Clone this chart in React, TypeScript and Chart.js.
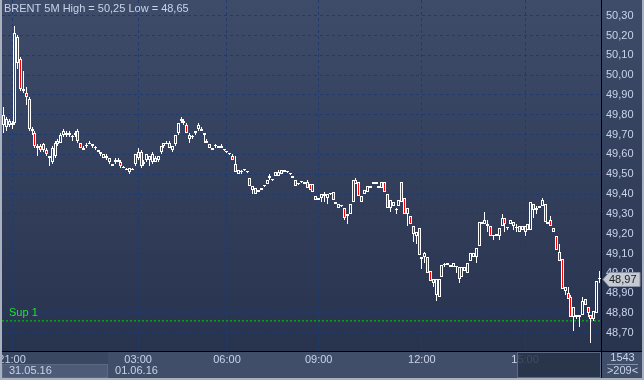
import React, { useEffect, useRef } from "react";
import { Chart, registerables } from "chart.js";

Chart.register(...registerables);

const TITLE = "BRENT 5M High = 50,25 Low = 48,65";

// 5-minute candles, 31.05.16 21:00 .. 01.06.16 ~16:40
const OPEN = [
  49.75, 49.74, 49.77, 49.75, 49.76, 50.19, 50.08, 49.92, 49.91, 49.88, 49.72, 49.71, 49.63, 49.64, 49.62, 49.62, 49.59, 49.56, 49.59, 49.65, 49.66, 49.70, 49.70, 49.71, 49.69, 49.71, 49.72, 49.66, 49.62, 49.64, 49.65, 49.64, 49.63, 49.62, 49.60, 49.58,
  49.58, 49.58, 49.54, 49.56, 49.56, 49.56, 49.53, 49.52, 49.51, 49.52, 49.55, 49.58, 49.61, 49.55, 49.57, 49.59, 49.56, 49.58, 49.57, 49.61, 49.64, 49.65, 49.66, 49.62, 49.65, 49.71, 49.77, 49.76, 49.75, 49.70, 49.69, 49.71, 49.73, 49.73,
  49.70, 49.67, 49.65, 49.62, 49.64, 49.63, 49.64, 49.62, 49.61, 49.60, 49.59, 49.55, 49.50, 49.51, 49.52, 49.51, 49.48, 49.42, 49.43, 49.41, 49.43, 49.44, 49.45, 49.48, 49.47, 49.49, 49.49, 49.52, 49.52, 49.51, 49.50, 49.49, 49.47, 49.45, 49.46,
  49.46, 49.46, 49.45, 49.41, 49.39, 49.38, 49.38, 49.39, 49.38, 49.40, 49.41, 49.36, 49.33, 49.34, 49.33, 49.29, 49.30, 49.36, 49.45, 49.46, 49.36, 49.40, 49.41, 49.43, 49.45, 49.45, 49.44, 49.43, 49.46, 49.40, 49.33, 49.36, 49.32, 49.34, 49.46,
  49.38, 49.30, 49.29, 49.24, 49.19, 49.23, 49.08, 49.08, 49.08, 49.01, 48.97, 48.89, 48.88, 48.98, 49.04, 49.04, 49.04, 49.03, 49.03, 49.03, 48.98, 49.01, 49.00, 49.06, 49.08, 49.08, 49.14, 49.25, 49.25, 49.24, 49.24, 49.19, 49.19, 49.19, 49.24,
  49.28, 49.23, 49.25, 49.26, 49.23, 49.24, 49.22, 49.24, 49.22, 49.22, 49.35, 49.32, 49.34, 49.34, 49.35, 49.25, 49.27, 49.23, 49.19, 49.11, 49.07, 48.91, 48.90, 48.88, 48.78, 48.78, 48.78, 48.79, 48.87, 48.83, 48.79, 48.77, 48.80, 48.97,
];
const HIGH = [
  49.84, 49.79, 49.78, 49.77, 50.25, 50.20, 50.09, 50.02, 49.94, 49.89, 49.74, 49.72, 49.65, 49.65, 49.66, 49.63, 49.59, 49.64, 49.67, 49.68, 49.71, 49.73, 49.72, 49.72, 49.70, 49.72, 49.73, 49.66, 49.64, 49.66, 49.67, 49.65, 49.64, 49.62, 49.61, 49.60,
  49.60, 49.58, 49.55, 49.58, 49.58, 49.57, 49.54, 49.53, 49.53, 49.53, 49.60, 49.63, 49.62, 49.57, 49.60, 49.59, 49.61, 49.59, 49.59, 49.64, 49.66, 49.67, 49.67, 49.64, 49.70, 49.76, 49.79, 49.78, 49.76, 49.71, 49.70, 49.72, 49.76, 49.74,
  49.71, 49.68, 49.65, 49.63, 49.65, 49.64, 49.65, 49.62, 49.61, 49.60, 49.60, 49.59, 49.52, 49.52, 49.52, 49.51, 49.48, 49.44, 49.43, 49.42, 49.43, 49.44, 49.47, 49.50, 49.47, 49.51, 49.52, 49.52, 49.52, 49.51, 49.50, 49.49, 49.47, 49.45, 49.46,
  49.46, 49.47, 49.45, 49.45, 49.39, 49.38, 49.40, 49.41, 49.40, 49.40, 49.41, 49.36, 49.35, 49.34, 49.33, 49.30, 49.35, 49.47, 49.48, 49.46, 49.39, 49.42, 49.44, 49.44, 49.46, 49.46, 49.44, 49.46, 49.46, 49.40, 49.37, 49.36, 49.33, 49.37, 49.46,
  49.38, 49.33, 49.29, 49.24, 49.21, 49.23, 49.08, 49.11, 49.08, 49.01, 48.97, 48.97, 48.97, 49.04, 49.05, 49.05, 49.04, 49.05, 49.03, 49.03, 49.03, 49.03, 49.05, 49.10, 49.10, 49.13, 49.26, 49.26, 49.31, 49.27, 49.24, 49.19, 49.20, 49.23, 49.30,
  49.28, 49.23, 49.27, 49.26, 49.25, 49.24, 49.24, 49.24, 49.25, 49.36, 49.35, 49.34, 49.34, 49.38, 49.35, 49.26, 49.29, 49.23, 49.19, 49.15, 49.07, 48.93, 48.93, 48.89, 48.83, 48.79, 48.79, 48.88, 48.87, 48.83, 48.79, 48.81, 48.96, 49.01,
];
const LOW = [
  49.71, 49.72, 49.74, 49.73, 49.75, 50.03, 49.92, 49.91, 49.85, 49.72, 49.70, 49.63, 49.59, 49.61, 49.61, 49.59, 49.54, 49.55, 49.58, 49.64, 49.66, 49.69, 49.69, 49.69, 49.67, 49.69, 49.66, 49.63, 49.62, 49.63, 49.65, 49.63, 49.62, 49.61, 49.59, 49.58,
  49.57, 49.55, 49.54, 49.55, 49.56, 49.53, 49.53, 49.52, 49.50, 49.52, 49.54, 49.57, 49.53, 49.54, 49.56, 49.54, 49.55, 49.56, 49.56, 49.60, 49.63, 49.65, 49.63, 49.61, 49.64, 49.70, 49.76, 49.75, 49.71, 49.66, 49.68, 49.70, 49.72, 49.72,
  49.66, 49.66, 49.63, 49.62, 49.63, 49.63, 49.63, 49.62, 49.61, 49.60, 49.57, 49.51, 49.50, 49.50, 49.52, 49.51, 49.44, 49.40, 49.40, 49.41, 49.42, 49.44, 49.45, 49.47, 49.47, 49.49, 49.49, 49.50, 49.51, 49.51, 49.50, 49.48, 49.44, 49.45, 49.46,
  49.45, 49.43, 49.42, 49.41, 49.37, 49.37, 49.36, 49.36, 49.35, 49.40, 49.37, 49.35, 49.33, 49.34, 49.27, 49.25, 49.30, 49.36, 49.45, 49.39, 49.36, 49.40, 49.41, 49.43, 49.45, 49.45, 49.43, 49.43, 49.41, 49.33, 49.31, 49.34, 49.30, 49.34, 49.36,
  49.30, 49.24, 49.25, 49.16, 49.15, 49.09, 49.02, 49.05, 49.00, 48.96, 48.93, 48.86, 48.88, 48.98, 49.03, 49.04, 49.03, 49.03, 49.00, 48.95, 48.98, 49.01, 49.00, 49.06, 49.08, 49.05, 49.14, 49.25, 49.25, 49.21, 49.19, 49.17, 49.19, 49.17, 49.24,
  49.21, 49.22, 49.25, 49.22, 49.21, 49.21, 49.22, 49.19, 49.22, 49.22, 49.28, 49.30, 49.33, 49.34, 49.26, 49.25, 49.24, 49.21, 49.12, 49.06, 48.92, 48.89, 48.87, 48.78, 48.71, 48.77, 48.73, 48.79, 48.84, 48.78, 48.65, 48.76, 48.80, 48.95,
];
const CLOSE = [
  49.80, 49.78, 49.75, 49.76, 50.21, 50.06, 49.93, 49.93, 49.89, 49.73, 49.73, 49.64, 49.64, 49.62, 49.65, 49.60, 49.58, 49.63, 49.66, 49.67, 49.70, 49.72, 49.71, 49.70, 49.69, 49.70, 49.67, 49.63, 49.63, 49.64, 49.66, 49.65, 49.63, 49.61, 49.61, 49.60,
  49.59, 49.56, 49.55, 49.57, 49.57, 49.54, 49.53, 49.52, 49.53, 49.52, 49.60, 49.61, 49.54, 49.56, 49.60, 49.57, 49.60, 49.56, 49.59, 49.64, 49.66, 49.66, 49.63, 49.64, 49.70, 49.76, 49.78, 49.77, 49.71, 49.68, 49.69, 49.72, 49.75, 49.72,
  49.71, 49.66, 49.63, 49.63, 49.64, 49.64, 49.63, 49.62, 49.61, 49.60, 49.57, 49.51, 49.52, 49.51, 49.52, 49.51, 49.44, 49.44, 49.40, 49.42, 49.42, 49.44, 49.47, 49.49, 49.47, 49.51, 49.51, 49.50, 49.51, 49.51, 49.50, 49.48, 49.44, 49.45, 49.46,
  49.45, 49.43, 49.42, 49.45, 49.37, 49.37, 49.40, 49.40, 49.40, 49.40, 49.37, 49.35, 49.35, 49.34, 49.28, 49.30, 49.35, 49.47, 49.47, 49.39, 49.39, 49.42, 49.44, 49.44, 49.46, 49.46, 49.43, 49.46, 49.41, 49.33, 49.37, 49.34, 49.32, 49.37, 49.36,
  49.30, 49.33, 49.25, 49.20, 49.21, 49.09, 49.07, 49.10, 49.00, 48.96, 48.95, 48.97, 48.97, 49.04, 49.04, 49.05, 49.03, 49.05, 49.03, 48.97, 49.03, 49.03, 49.05, 49.10, 49.10, 49.13, 49.26, 49.26, 49.27, 49.25, 49.19, 49.19, 49.20, 49.23, 49.28,
  49.25, 49.23, 49.27, 49.24, 49.23, 49.21, 49.24, 49.21, 49.25, 49.36, 49.32, 49.33, 49.33, 49.37, 49.26, 49.26, 49.24, 49.21, 49.12, 49.06, 48.92, 48.93, 48.87, 48.78, 48.83, 48.79, 48.79, 48.86, 48.84, 48.80, 48.77, 48.81, 48.96, 48.97,
];

const Y_TICKS = [48.7, 48.8, 48.9, 49.0, 49.1, 49.2, 49.3, 49.4, 49.5, 49.6, 49.7, 49.8, 49.9, 50.0, 50.1, 50.2, 50.3];
const Y_MIN = 48.608;
const Y_MAX = 50.379;
const X_TICK_IDX = [3, 47, 78, 110, 146, 182];
const X_TICK_LABELS = ["21:00", "03:00", "06:00", "09:00", "12:00", "15:00"];
const DATE_LABELS = ["31.05.16", "01.06.16"];
const DATE_START_IDX = [0, 37];
const SUP_LEVEL = 48.76;
const SUP_LABEL = "Sup 1";
const BAR_TOTAL_LABEL = "1543";
const VISIBLE_LABEL = ">209<";

const FAMILY = "'Liberation Sans Narrow', 'Liberation Sans', Arial, sans-serif";
const TEXT = "#c9d3ea";
const GRID = "#1f3a6b";

const fmt = (v: number) => v.toFixed(2).replace(".", ",");

export default function App() {
  const ref = useRef<HTMLCanvasElement>(null);

  useEffect(() => {
    const canvas = ref.current!;
    const c2d = canvas.getContext("2d")!;
    const bg = c2d.createLinearGradient(0, 0, 0, 351);
    bg.addColorStop(0, "#3e4c6a");
    bg.addColorStop(1, "#28334e");

    const n = CLOSE.length;
    const bodies = CLOSE.map((c, i) => ({ x: i, y: [OPEN[i], c] }));
    const wicks = CLOSE.map((_, i) => ({ x: i, y: [LOW[i], HIGH[i]] }));

    const snap = {
      id: "snap",
      beforeDatasetsDraw(chart: any) {
        chart.data.datasets.forEach((ds: any, di: number) => {
          if (ds.type === "line") return;
          const meta = chart.getDatasetMeta(di);
          meta.data.forEach((el: any) => {
            el.x = Math.floor(el.x) + 0.5;
            const y = Math.round(el.y);
            let b = Math.round(el.base);
            if (Math.abs(y - b) < 1) b = y + 1;
            el.y = y;
            el.base = b;
          });
        });
      },
    };

    const decor = {
      id: "decor",
      beforeDraw(chart: any) {
        const { ctx, width, height, chartArea: ca } = chart;
        const xs = chart.scales.x;
        ctx.save();
        ctx.fillStyle = bg;
        ctx.fillRect(0, 0, width, ca.bottom);
        ctx.fillStyle = "#414e69";
        ctx.fillRect(0, ca.bottom, width, height - ca.bottom);
        // first date box
        const x0 = xs.getPixelForValue(DATE_START_IDX[0] - 0.5);
        const x1 = xs.getPixelForValue(DATE_START_IDX[1] - 0.5);
        ctx.fillStyle = "#3a4761";
        ctx.fillRect(x0, ca.bottom + 1, x1 - x0, 12);
        ctx.fillStyle = "#4e5b76";
        ctx.fillRect(x0, ca.bottom + 13, x1 - x0, 14);
        ctx.strokeStyle = "#5c6984";
        ctx.lineWidth = 1;
        ctx.strokeRect(x0 + 0.5, ca.bottom + 13.5, x1 - x0 - 1, 13);
        ctx.restore();
      },
      afterDraw(chart: any) {
        const { ctx, width, height, chartArea: ca } = chart;
        const xs = chart.scales.x;
        const ys = chart.scales.y;
        ctx.save();
        // scroll box over the right part of the time axis
        ctx.fillStyle = "rgba(38,49,71,0.85)";
        ctx.fillRect(ca.right - 84, ca.bottom + 1, 84, 26);
        ctx.strokeStyle = "#5d6a85";
        ctx.lineWidth = 1;
        ctx.strokeRect(ca.right - 84 + 0.5, ca.bottom + 1.5, 83, 25);

        // separators
        ctx.strokeStyle = "#000000";
        ctx.beginPath();
        ctx.moveTo(ca.right + 0.5, 0);
        ctx.lineTo(ca.right + 0.5, height);
        ctx.moveTo(0, ca.bottom + 0.5);
        ctx.lineTo(width, ca.bottom + 0.5);
        ctx.stroke();

        ctx.font = `11px ${FAMILY}`;
        ctx.textBaseline = "middle";
        ctx.fillStyle = TEXT;
        ctx.textAlign = "left";
        // title
        ctx.fillText(TITLE, 4, 9);
        // dates
        DATE_LABELS.forEach((d, k) => {
          const x = xs.getPixelForValue(DATE_START_IDX[k] - 0.5);
          ctx.fillText(d, x + 7, ca.bottom + 20);
        });
        // bottom-right info
        ctx.textAlign = "center";
        const cx = (ca.right + width) / 2;
        ctx.fillText(BAR_TOTAL_LABEL, cx, ca.bottom + 7);
        ctx.strokeStyle = "#8490a8";
        ctx.beginPath();
        ctx.moveTo(ca.right + 6, ca.bottom + 13.5);
        ctx.lineTo(width - 6, ca.bottom + 13.5);
        ctx.stroke();
        ctx.fillText(VISIBLE_LABEL, cx, ca.bottom + 20);

        // support label
        const ySup = ys.getPixelForValue(SUP_LEVEL);
        ctx.textAlign = "left";
        ctx.fillStyle = "#1ee61e";
        ctx.fillText(SUP_LABEL, ca.left + 7, ySup - 8);

        // last price tag
        const last = CLOSE[n - 1];
        const yp = Math.round(ys.getPixelForValue(last)) + 0.5;
        const tx = ca.right + 2;
        ctx.beginPath();
        ctx.moveTo(tx, yp);
        ctx.lineTo(tx + 6, yp - 7);
        ctx.lineTo(width - 4, yp - 7);
        ctx.lineTo(width - 4, yp + 7);
        ctx.lineTo(tx + 6, yp + 7);
        ctx.closePath();
        ctx.fillStyle = "#c6cad3";
        ctx.fill();
        ctx.strokeStyle = "#8a93a3";
        ctx.stroke();
        ctx.fillStyle = "#1c1c1c";
        ctx.fillText(fmt(last), tx + 6, yp);

        // frame
        ctx.fillStyle = "#a9b1c1";
        ctx.fillRect(0, 0, 2, height);
        ctx.fillRect(0, height - 2, width, 2);
        ctx.fillRect(width - 2, 0, 2, height);
        ctx.restore();
      },
    };

    const chart = new Chart(canvas, {
      type: "bar",
      data: {
        datasets: [
          {
            type: "bar",
            label: "body",
            data: bodies as any,
            order: 0,
            grouped: false,
            barThickness: 3,
            minBarLength: 1,
            borderWidth: 1,
            borderColor: "#ffffff",
            borderSkipped: false,
            inflateAmount: 0,
            backgroundColor: (c: any) => {
              const i = c.dataIndex;
              return CLOSE[i] < OPEN[i] ? "#ff0000" : bg;
            },
          } as any,
          {
            type: "bar",
            label: "wick",
            data: wicks as any,
            order: 1,
            grouped: false,
            barThickness: 1,
            borderWidth: 0,
            inflateAmount: 0,
            backgroundColor: "#ffffff",
          } as any,
          {
            type: "line",
            label: "sup",
            data: [
              { x: -0.5, y: SUP_LEVEL },
              { x: n - 0.5, y: SUP_LEVEL },
            ],
            order: 2,
            borderColor: "#00d400",
            borderWidth: 1,
            borderDash: [2, 2],
            pointRadius: 0,
          } as any,
        ],
      },
      options: {
        animation: false,
        responsive: false,
        events: [],
        layout: { padding: { left: 2, top: 0, right: 0, bottom: 0 } },
        plugins: { legend: { display: false }, tooltip: { enabled: false } },
        scales: {
          x: {
            type: "linear",
            position: "bottom",
            min: -0.5,
            max: n - 0.5,
            offset: false,
            grid: { color: GRID, lineWidth: 1, drawTicks: false, offset: false },
            border: { display: false, dash: [3, 3] },
            afterBuildTicks: (s: any) => {
              s.ticks = X_TICK_IDX.map((v) => ({ value: v }));
            },
            ticks: {
              color: TEXT,
              padding: 2,
              maxRotation: 0,
              autoSkip: false,
              font: { family: FAMILY, size: 11 },
              callback: (v: any) => {
                const k = X_TICK_IDX.indexOf(Number(v));
                return k >= 0 ? X_TICK_LABELS[k] : "";
              },
            },
            afterFit: (s: any) => {
              s.height = 29;
              s.paddingLeft = 0;
              s.paddingRight = 0;
            },
          } as any,
          y: {
            type: "linear",
            position: "right",
            min: Y_MIN,
            max: Y_MAX,
            grid: { color: GRID, lineWidth: 1, drawTicks: false },
            border: { display: false, dash: [3, 3] },
            afterBuildTicks: (s: any) => {
              s.ticks = Y_TICKS.map((v) => ({ value: v }));
            },
            ticks: {
              color: TEXT,
              padding: 5,
              font: { family: FAMILY, size: 11 },
              callback: (v: any) => fmt(Number(v)),
            },
            afterFit: (s: any) => {
              s.width = 43;
              s.paddingTop = 0;
              s.paddingBottom = 0;
            },
          } as any,
        },
      },
      plugins: [decor, snap],
    });

    return () => chart.destroy();
  }, []);

  return (
    <div style={{ position: "absolute", left: 0, top: 0, width: 644, height: 380 }}>
      <canvas ref={ref} width={644} height={380} style={{ display: "block" }} />
    </div>
  );
}
